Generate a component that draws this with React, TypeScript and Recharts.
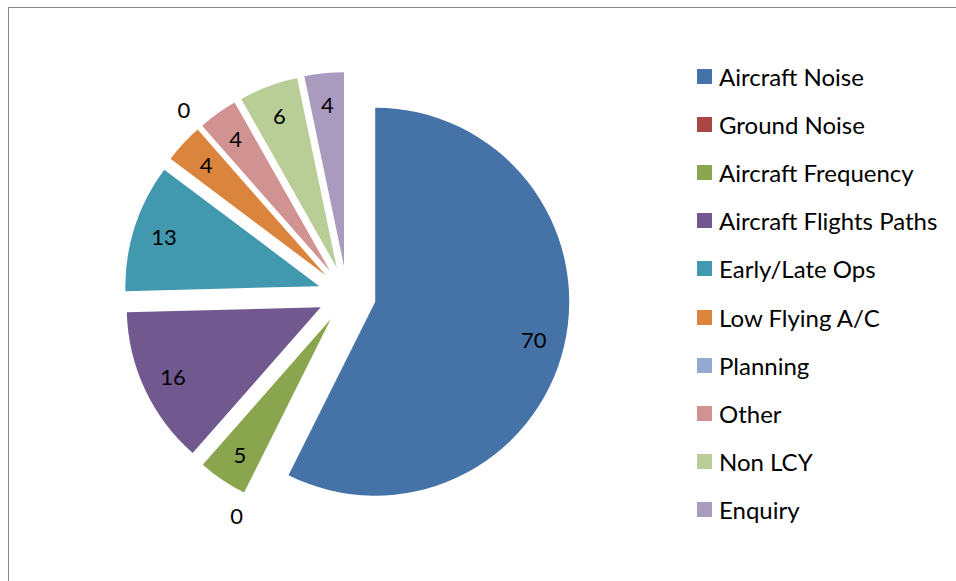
import { PieChart, Pie, Cell, Legend, Sector } from "recharts";

const categories = [
  "Aircraft Noise",
  "Ground Noise",
  "Aircraft Frequency",
  "Aircraft Flights Paths",
  "Early/Late Ops",
  "Low Flying A/C",
  "Planning",
  "Other",
  "Non LCY",
  "Enquiry",
];
const complaints = [70, 0, 5, 16, 13, 4, 0, 4, 6, 4];
const colours = [
  "#4572A7",
  "#AA4643",
  "#89A54E",
  "#71588F",
  "#4198AF",
  "#DB843D",
  "#93A9CF",
  "#D19392",
  "#B9CD96",
  "#A99BBD",
];

const data = categories.map((name, i) => ({ name, value: complaints[i] }));

const FONT = "Lato, 'Open Sans', sans-serif";
const RAD = Math.PI / 180;
const EXPLODE = 29;

// every slice is pushed out along its own mid angle
const ExplodedSector = (props: any) => {
  const { cx, cy, midAngle } = props;
  return (
    <Sector
      {...props}
      cx={cx + EXPLODE * Math.cos(-midAngle * RAD)}
      cy={cy + EXPLODE * Math.sin(-midAngle * RAD)}
    />
  );
};

const renderLabel = ({ cx, cy, midAngle, value }: any) => {
  const r = value === 0 ? 247 : 192;
  const x = cx + r * Math.cos(-midAngle * RAD);
  const y = cy + r * Math.sin(-midAngle * RAD);
  return (
    <text
      x={x}
      y={y}
      textAnchor="middle"
      dominantBaseline="central"
      fill="#000"
      fontSize={22}
      fontFamily={FONT}
    >
      {value}
    </text>
  );
};

// keep the legend in data order, not alphabetical
const LegendList = ({ payload }: any) => {
  const items = [...(payload || [])].sort(
    (a: any, b: any) => categories.indexOf(a.value) - categories.indexOf(b.value)
  );
  return (
    <ul style={{ listStyle: "none", margin: 0, padding: 0, fontFamily: FONT, fontSize: 24, color: "#000" }}>
      {items.map((p: any) => (
        <li key={p.value} style={{ height: 48.2, display: "flex", alignItems: "center", whiteSpace: "nowrap" }}>
          <span style={{ display: "inline-block", width: 15, height: 15, background: p.color, marginRight: 7 }} />
          {p.value}
        </li>
      ))}
    </ul>
  );
};

export default function App() {
  return (
    <div
      style={{
        position: "absolute",
        left: 8,
        top: 7,
        width: 948,
        height: 574,
        boxSizing: "border-box",
        borderTop: "1px solid #878787",
        borderLeft: "1px solid #878787",
      }}
    >
      <PieChart width={947} height={573}>
        <Pie
          data={data}
          dataKey="value"
          nameKey="name"
          cx={333}
          cy={282}
          outerRadius={194}
          startAngle={90}
          endAngle={-270}
          stroke="none"
          shape={ExplodedSector}
          label={renderLabel}
          labelLine={false}
          isAnimationActive={false}
        >
          {data.map((d, i) => (
            <Cell key={d.name} fill={colours[i]} />
          ))}
        </Pie>
        <Legend
          layout="vertical"
          align="right"
          verticalAlign="top"
          content={<LegendList />}
          wrapperStyle={{ left: 688, top: 44, width: 258 }}
        />
      </PieChart>
    </div>
  );
}
